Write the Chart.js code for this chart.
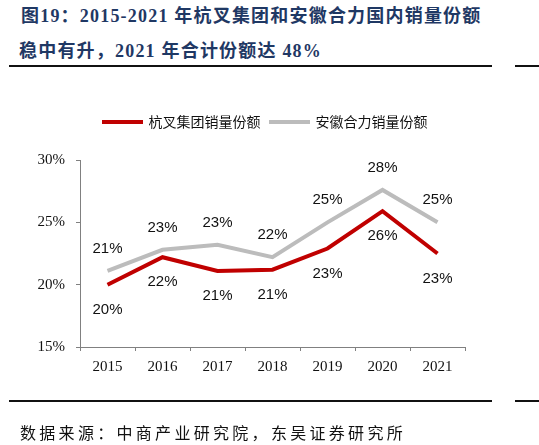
<!DOCTYPE html>
<html>
<head>
<meta charset="utf-8">
<script src="https://cdn.jsdelivr.net/npm/chart.js@4"></script>
<style>
body { margin: 0; background: #fff; width: 539px; height: 445px; position: relative; overflow: hidden; }
.title { position: absolute; left: 21px; color: #1f3864; font: bold 18px "Liberation Serif", "Noto Sans CJK SC", serif; white-space: nowrap; letter-spacing: 1.2px; }
.rule { position: absolute; height: 2px; background: #111; }
.source { position: absolute; left: 20px; top: 420px; font: 16px "Noto Sans CJK SC", sans-serif; letter-spacing: 3.3px; color: #111; white-space: nowrap; }
#chart { position: absolute; left: 0; top: 0; }
</style>
</head>
<body>
<div class="title" style="top:1px">图19：2015-2021 年杭叉集团和安徽合力国内销量份额</div>
<div class="title" style="top:36px; left:19px">稳中有升，2021 年合计份额达 48%</div>
<div class="rule" style="top:65px; left:9px; width:483px"></div>
<div class="rule" style="top:65px; left:515px; width:24px"></div>
<canvas id="chart" width="539" height="445"></canvas>
<div class="rule" style="top:400px; left:9px; width:483px"></div>
<div class="rule" style="top:400px; left:515px; width:24px"></div>
<div class="source">数据来源：中商产业研究院，东吴证券研究所</div>

<script>
const years = ["2015", "2016", "2017", "2018", "2019", "2020", "2021"];
const hangcha = [20.0, 22.2, 21.1, 21.2, 22.9, 25.9, 22.5];
const heli = [21.1, 22.8, 23.2, 22.2, 25.0, 27.6, 25.0];
const hangchaLabels = ["20%", "22%", "21%", "21%", "23%", "26%", "23%"];
const heliLabels = ["21%", "23%", "23%", "22%", "25%", "28%", "25%"];
const yMin = 15;
const yMax = 30;
const yStep = 5;


const valueLabels = {
    id: "valueLabels",
    afterDatasetsDraw(chart) {
        const ctx = chart.ctx;
        ctx.save();
        ctx.font = "15px 'Liberation Sans', Arial, sans-serif";
        ctx.fillStyle = "#111";
        ctx.textAlign = "center";
        ctx.textBaseline = "middle";
        chart.data.datasets.forEach((ds, i) => {
            const meta = chart.getDatasetMeta(i);
            meta.data.forEach((pt, j) => {
                const dy = ds.labelAbove ? -22 : 25;
                ctx.fillText(ds.valueText[j], pt.x, pt.y + dy);
            });
        });
        ctx.restore();
    }
};

// legend: fixed height, and shifted right to sit over the plot like the original
const legendPlace = {
    id: "legendPlace",
    beforeInit(chart) {
        const fit = chart.legend.fit;
        chart.legend.fit = function () {
            fit.bind(chart.legend)();
            this.height = 55;
        };
    },
    afterLayout(chart) {
        chart.legend.left += 33;
        chart.legend.right += 33;
    }
};

new Chart(document.getElementById("chart"), {
    type: "line",
    data: {
        labels: years,
        datasets: [{
            label: "杭叉集团销量份额",
            data: hangcha,
            valueText: hangchaLabels,
            labelAbove: false,
            borderColor: "#c00000",
            backgroundColor: "#c00000",
            borderWidth: 4,
            pointRadius: 0,
            tension: 0
        }, {
            label: "安徽合力销量份额",
            data: heli,
            valueText: heliLabels,
            labelAbove: true,
            borderColor: "#bcbcbc",
            backgroundColor: "#bcbcbc",
            borderWidth: 4,
            pointRadius: 0,
            tension: 0
        }]
    },
    options: {
        responsive: false,
        animation: false,
        layout: {
            padding: { top: 105, left: 0, right: 74, bottom: 58 }
        },
        plugins: {
            tooltip: { enabled: false },
            legend: {
                position: "top",
                labels: {
                    boxWidth: 38,
                    boxHeight: 1,
                    padding: 10,
                    color: "#111",
                    font: { family: "'Noto Sans CJK SC', sans-serif", size: 14 },
                    generateLabels(chart) {
                        const items = Chart.defaults.plugins.legend.labels.generateLabels(chart);
                        items.forEach(it => { it.lineWidth = 3; it.fillStyle = it.strokeStyle; });
                        return items;
                    }
                }
            }
        },
        scales: {
            x: {
                offset: true,
                afterFit(scale) { scale.height = 40; },
                grid: { display: true, drawOnChartArea: false, offset: true, tickLength: 4, color: "#808080" },
                border: { color: "#808080", width: 1 },
                ticks: {
                    padding: 7,
                    color: "#111",
                    font: { family: "'Liberation Serif', serif", size: 15 }
                }
            },
            y: {
                min: yMin,
                max: yMax,
                afterFit(scale) { scale.width = 80; },
                grid: { display: true, drawOnChartArea: false, tickLength: 4, color: "#808080" },
                border: { color: "#808080", width: 1 },
                ticks: {
                    stepSize: yStep,
                    padding: 11,
                    color: "#111",
                    font: { family: "'Liberation Serif', serif", size: 15 },
                    callback: v => v + "%"
                }
            }
        }
    },
    plugins: [valueLabels, legendPlace]
});
</script>
</body>
</html>
